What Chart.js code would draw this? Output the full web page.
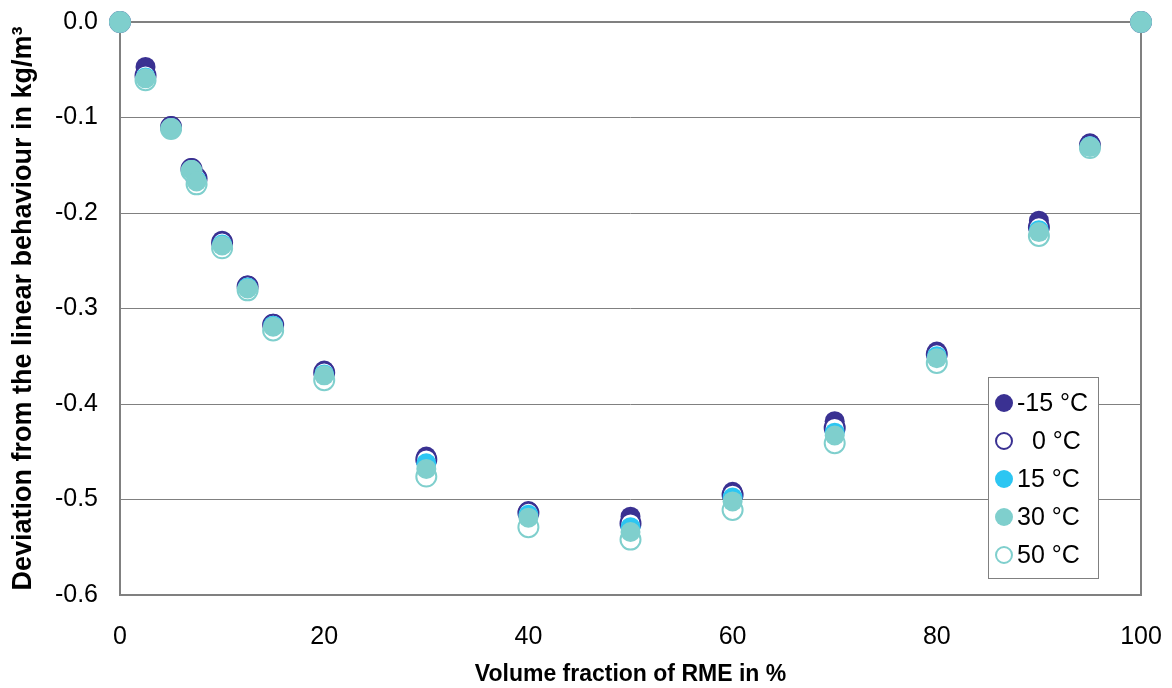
<!DOCTYPE html>
<html>
<head>
<meta charset="utf-8">
<script src="https://cdn.jsdelivr.net/npm/chart.js@4"></script>
<style>
html,body{margin:0;padding:0;background:#fff}
#wrap{width:1172px;height:688px}
</style>
</head>
<body>
<div id="wrap"><canvas id="c" width="1172" height="688"></canvas></div>
<script>

// volume fraction of RME in %
const fractions = [0, 2.5, 5, 7, 7.5, 10, 12.5, 15, 20, 30, 40, 50, 60, 70, 80, 90, 95, 100]

// deviation from linear behaviour in kg/m3, one array per temperature
const devM15 = [0, -0.047, -0.109, -0.153, -0.162, -0.229, -0.276, -0.316, -0.365, -0.455, -0.512, -0.518, -0.492, -0.418, -0.345, -0.208, -0.127, 0]
const dev0   = [0, -0.056, -0.110, -0.154, -0.164, -0.231, -0.277, -0.317, -0.367, -0.458, -0.514, -0.525, -0.495, -0.425, -0.348, -0.215, -0.129, 0]
const dev15  = [0, -0.058, -0.111, -0.155, -0.166, -0.233, -0.278, -0.318, -0.369, -0.462, -0.516, -0.529, -0.498, -0.430, -0.350, -0.218, -0.130, 0]
const dev30  = [0, -0.059, -0.112, -0.155, -0.167, -0.234, -0.279, -0.319, -0.370, -0.468, -0.519, -0.534, -0.502, -0.433, -0.352, -0.220, -0.131, 0]
const dev50  = [0, -0.061, -0.112, -0.156, -0.170, -0.237, -0.281, -0.323, -0.375, -0.476, -0.529, -0.542, -0.511, -0.441, -0.357, -0.224, -0.132, 0]

const seriesLabels = ["-15 °C", "0 °C", "15 °C", "30 °C", "50 °C"]
const seriesData = [devM15, dev0, dev15, dev30, dev50]
// lower number = drawn on top (30 °C sits above the rest like in the original)
const drawOrder = [4, 3, 2, 0, 1]

const xTicks = [0, 20, 40, 60, 80, 100]
const yTicks = [0, -0.1, -0.2, -0.3, -0.4, -0.5, -0.6]

const styles = [
{fill:"#3a3192", stroke:"#3a3192", open:false},
{fill:"#ffffff", stroke:"#3a3192", open:true},
{fill:"#2cc6f2", stroke:"#2cc6f2", open:false},
{fill:"#7fcfcd", stroke:"#7fcfcd", open:false},
{fill:"#ffffff", stroke:"#7fcfcd", open:true}
]

const FONT = "'Liberation Sans', Arial, sans-serif"

let datasets = seriesData.map((arr, i) => ({
label: seriesLabels[i],
data: arr.map((v, k) => ({x: fractions[k], y: v})),
showLine: false,
pointRadius: 10,
pointHoverRadius: 10,
pointBackgroundColor: styles[i].fill,
pointBorderColor: styles[i].stroke,
pointBorderWidth: styles[i].open ? 2 : 0,
order: drawOrder[i],
clip: false
}))

// frame around the plot area
const frame = {
id: "frame",
beforeDatasetsDraw(chart){
const a = chart.chartArea
const ctx = chart.ctx
ctx.save()
ctx.strokeStyle = "#808080"
ctx.lineWidth = 2
ctx.strokeRect(a.left, a.top, a.right - a.left, a.bottom - a.top)
ctx.restore()
}
}

// legend box inside the plot like the original
const boxLegend = {
id: "boxLegend",
afterDraw(chart){
const ctx = chart.ctx
const x0 = 988, y0 = 377, w = 110, h = 201
ctx.save()
ctx.fillStyle = "#fff"
ctx.fillRect(x0, y0, w, h)
ctx.strokeStyle = "#808080"
ctx.lineWidth = 1
ctx.strokeRect(x0 + 0.5, y0 + 0.5, w, h)
ctx.font = "25px " + FONT
ctx.textBaseline = "middle"
seriesLabels.forEach((lab, i) => {
const cy = y0 + 26 + i * 38
const s = styles[i]
ctx.beginPath()
ctx.arc(x0 + 16, cy, s.open ? 8 : 9, 0, Math.PI * 2)
if(s.open){
ctx.fillStyle = "#fff"
ctx.fill()
ctx.strokeStyle = s.stroke
ctx.lineWidth = 2
ctx.stroke()
}else{
ctx.fillStyle = s.fill
ctx.fill()
}
ctx.fillStyle = "#000"
ctx.fillText(lab, i == 1 ? x0 + 44 : x0 + 29, cy + 1)
})
ctx.restore()
}
}

new Chart(document.getElementById("c"), {
type: "scatter",
data: {datasets: datasets},
options: {
responsive: false,
animation: false,
events: [],
layout: {padding: {top: 22, right: 31, left: 0, bottom: 0}},
plugins: {legend: {display: false}, tooltip: {enabled: false}},
scales: {
x: {
type: "linear",
min: 0, max: 100,
afterBuildTicks: ax => { ax.ticks = xTicks.map(v => ({value: v})) },
grid: {display: false, drawTicks: false},
border: {display: false},
ticks: {color: "#000", font: {family: FONT, size: 25}, padding: 27, maxRotation: 0},
title: {display: true, text: "Volume fraction of RME in %", color: "#000",
font: {family: FONT, size: 23, weight: "bold"}, padding: {top: 9, bottom: 0}},
afterFit: ax => { ax.height = 93; ax.paddingLeft = 0; ax.paddingRight = 0 }
},
y: {
type: "linear",
min: -0.6, max: 0,
afterBuildTicks: ax => { ax.ticks = yTicks.map(v => ({value: v})) },
grid: {color: "#808080", lineWidth: 1, drawTicks: false},
border: {display: false},
ticks: {color: "#000", font: {family: FONT, size: 25}, padding: 22,
callback: v => (Math.abs(v) < 1e-9 ? 0 : v).toFixed(1)},
title: {display: true, text: "Deviation from the linear behaviour in kg/m³", color: "#000",
font: {family: FONT, size: 27, weight: "bold"}, padding: {top: 7, bottom: 0}},
afterFit: ax => { ax.width = 120; ax.paddingTop = 0; ax.paddingBottom = 0 }
}
}
},
plugins: [frame, boxLegend]
})

</script>
</body>
</html>
